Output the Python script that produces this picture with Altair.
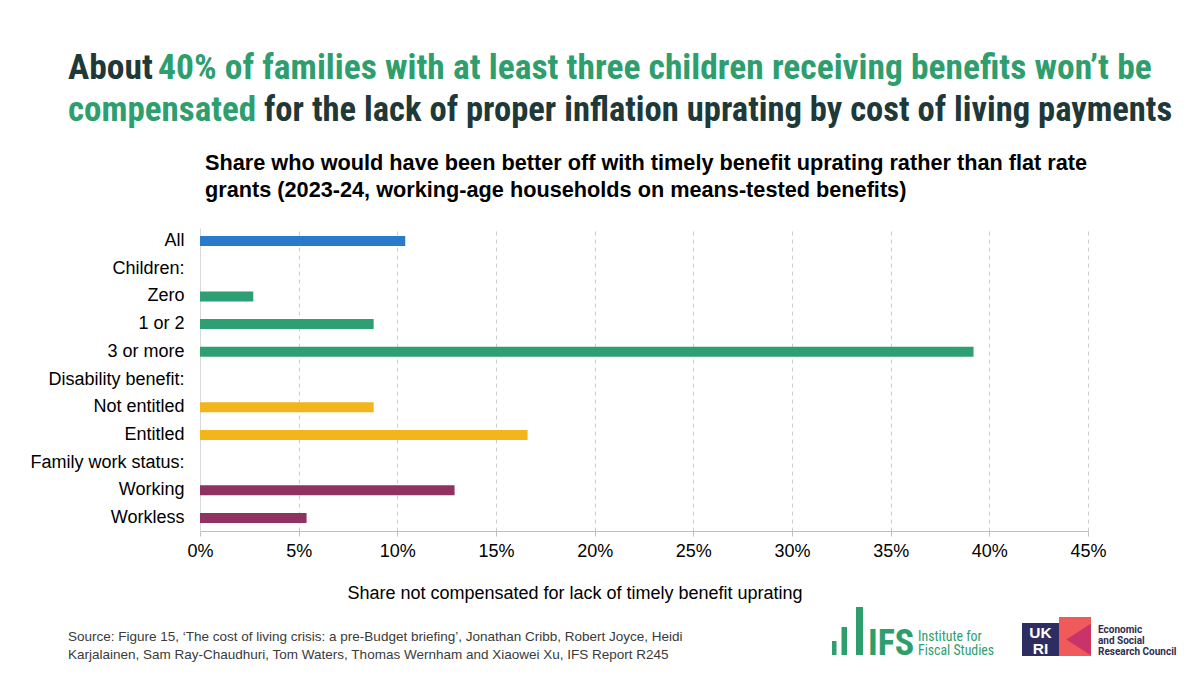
import altair as alt
import pandas as pd

categories = ["All", "Children:", "Zero", "1 or 2", "3 or more", "Disability benefit:",
              "Not entitled", "Entitled", "Family work status:", "Working", "Workless"]
values = [0.104, None, 0.027, 0.088, 0.392, None, 0.088, 0.166, None, 0.129, 0.054]
groups = ["All", "Children", "Children", "Children", "Children", "Disability",
          "Disability", "Disability", "Work", "Work", "Work"]
group_names = ["All", "Children", "Disability", "Work"]
group_colors = ["#2a7acb", "#2e9e73", "#f2b51b", "#8f3261"]
x_ticks = [0, 0.05, 0.10, 0.15, 0.20, 0.25, 0.30, 0.35, 0.40, 0.45]

title1_dark = "About"
title1_green = "40% of families with at least three children receiving benefits won’t be"
title2_green = "compensated"
title2_dark = "for the lack of proper inflation uprating by cost of living payments"
subtitle1 = "Share who would have been better off with timely benefit uprating rather than flat rate"
subtitle2 = "grants (2023-24, working-age households on means-tested benefits)"
x_title = "Share not compensated for lack of timely benefit uprating"
source1 = "Source: Figure 15, ‘The cost of living crisis: a pre-Budget briefing’, Jonathan Cribb, Robert Joyce, Heidi"
source2 = "Karjalainen, Sam Ray-Chaudhuri, Tom Waters, Thomas Wernham and Xiaowei Xu, IFS Report R245"

df = pd.DataFrame({"cat": categories, "val": values, "grp": groups})

W, H = 888, 303
OX, OY = 200, 228  # page position of plot origin

DARK = "#1f3838"
GREEN = "#2e9e6e"
TFONT = "Roboto Condensed, DejaVu Sans Condensed, Roboto, sans-serif"
AFONT = "Liberation Sans, Arial, sans-serif"

bars = alt.Chart(df).mark_bar().encode(
    y=alt.Y("cat:N", sort=categories,
            scale=alt.Scale(domain=categories, paddingInner=0.64, paddingOuter=0.29),
            axis=alt.Axis(title=None, labelFontSize=18, labelColor="#000000", labelFont=AFONT,
                          ticks=False, domainColor="#d9d9d9", labelPadding=16, grid=False)),
    x=alt.X("val:Q", scale=alt.Scale(domain=[0, 0.45], nice=False),
            axis=alt.Axis(title=None, values=x_ticks, format=".0%", labelFontSize=18,
                          labelColor="#000000", labelFont=AFONT, labelFlush=False,
                          grid=True, gridDash=[4, 4], gridColor="#cccccc",
                          domainColor="#bfbfbf", tickColor="#bfbfbf", tickSize=5, labelPadding=6)),
    color=alt.Color("grp:N", scale=alt.Scale(domain=group_names, range=group_colors), legend=None),
)

one = alt.Data(values=[{"a": 1}])


def txt(text, px, py, size, color, font=AFONT, weight="normal", align="left", baseline="alphabetic"):
    return alt.Chart(one).mark_text(text=text, fontSize=size, color=color, font=font, fontWeight=weight,
                                    align=align, baseline=baseline).encode(
        x=alt.value(px - OX), y=alt.value(py - OY))


def rect(x1, y1, x2, y2, color):
    return alt.Chart(one).mark_rect(color=color).encode(
        x=alt.value(x1 - OX), x2=alt.value(x2 - OX), y=alt.value(y1 - OY), y2=alt.value(y2 - OY))


TS = 35.5
layers = [
    bars,
    txt(title1_dark, 68, 79, TS, DARK, TFONT, "bold"),
    txt(title1_green, 158, 79, TS, GREEN, TFONT, "bold"),
    txt(title2_green, 68, 121, 35, GREEN, TFONT, "bold"),
    txt(title2_dark, 264, 121, 34.6, DARK, TFONT, "bold"),
    txt(subtitle1, 205, 170, 21.7, "#000000", weight="bold"),
    txt(subtitle2, 205, 197, 21.7, "#000000", weight="bold"),
    txt(x_title, 575, 599, 18, "#000000", align="center"),
    txt(source1, 68, 641, 13.5, "#3a3a3a"),
    txt(source2, 68, 659, 13.5, "#3a3a3a"),
    # IFS logo
    rect(832, 641, 836.5, 655, GREEN),
    rect(841.5, 627, 847, 655, GREEN),
    rect(856, 607, 863, 655, GREEN),
    txt("IFS", 868, 655, 36, GREEN, TFONT, "bold"),
    txt("Institute for", 918, 641, 13.8, GREEN, TFONT),
    txt("Fiscal Studies", 918, 655, 13.8, GREEN, TFONT),
    # UKRI logo
    rect(1022, 623, 1059, 656, "#2e2d62"),
    rect(1059, 617, 1091, 656, "#f05a5a"),
    alt.Chart(one).mark_point(shape="M1,-1L-0.55,0L1,1Z", filled=True, opacity=1, color="#c8336a",
                              size=1000).encode(x=alt.value(1075 - OX), y=alt.value(639.5 - OY)),
    txt("UK", 1040.5, 638, 15.5, "#ffffff", weight="bold", align="center"),
    txt("RI", 1040.5, 654, 15.5, "#ffffff", weight="bold", align="center"),
    txt("Economic", 1098, 633, 10, "#2e2d4f", "Roboto, sans-serif", "bold"),
    txt("and Social", 1098, 644, 10, "#2e2d4f", "Roboto, sans-serif", "bold"),
    txt("Research Council", 1098, 655, 10, "#2e2d4f", "Roboto, sans-serif", "bold"),
]

chart = alt.layer(*layers).properties(
    width=W, height=H,
    padding={"left": 192, "top": 220, "right": 104, "bottom": 134},
    autosize=alt.AutoSizeParams(type="none"),
    background="#ffffff",
).configure_view(stroke=None)

chart.save("out.html", embed_options={"renderer": "svg", "actions": False})
